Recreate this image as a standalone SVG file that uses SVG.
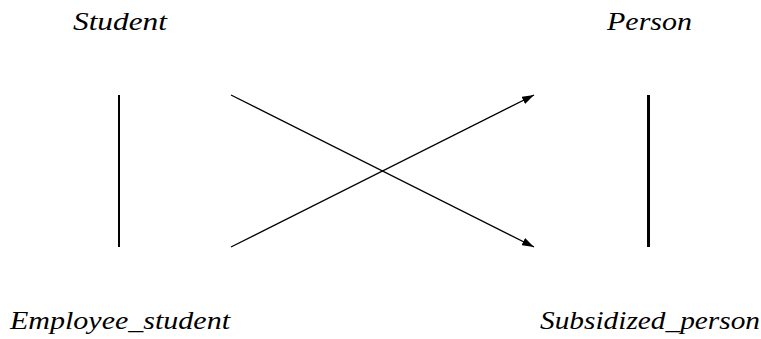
<svg xmlns="http://www.w3.org/2000/svg" width="761" height="339" viewBox="0 0 761 339">
<style>
.lbl{font-family:"Liberation Serif","DejaVu Serif",serif;font-style:italic;font-size:26px;fill:#000}
.bar{stroke:#000;fill:none}
.edge{stroke:#000;stroke-width:1.3;fill:none}
</style>
<defs>
<marker id="ah" viewBox="0 0 12 8" refX="12" refY="4" markerWidth="12" markerHeight="8" markerUnits="userSpaceOnUse" orient="auto">
<path d="M0,0 L12,4 L0,8 Z" fill="#000"/>
</marker>
</defs>
<rect width="761" height="339" fill="#fff"/>
<g id="student"><text class="lbl" x="73" y="30" textLength="94" lengthAdjust="spacingAndGlyphs">Student</text></g>
<g id="person"><text class="lbl" x="607" y="30" textLength="85" lengthAdjust="spacingAndGlyphs">Person</text></g>
<g id="employee_student"><text class="lbl" x="10" y="329" textLength="220" lengthAdjust="spacingAndGlyphs">Employee_student</text></g>
<g id="subsidized_person"><text class="lbl" x="540" y="329" textLength="220" lengthAdjust="spacingAndGlyphs">Subsidized_person</text></g>
<g id="left_bar"><line class="bar" x1="119" y1="95" x2="119" y2="247" stroke-width="2"/></g>
<g id="right_bar"><line class="bar" x1="648.5" y1="95" x2="648.5" y2="247" stroke-width="3"/></g>
<g id="connectors">
<line class="edge" x1="231" y1="95" x2="534" y2="247" marker-end="url(#ah)"/>
<line class="edge" x1="231" y1="247" x2="534" y2="95" marker-end="url(#ah)"/>
</g>
</svg>
